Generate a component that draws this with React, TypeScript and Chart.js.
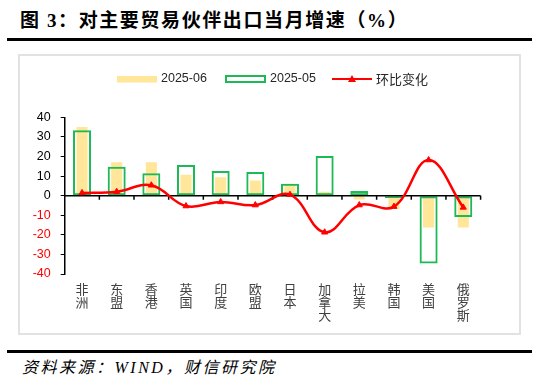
import React, { useEffect, useRef } from "react";
import { Chart, registerables } from "chart.js";

Chart.register(...registerables);

const categories: string[][] = [
  ["非", "洲"], ["东", "盟"], ["香", "港"], ["英", "国"], ["印", "度"], ["欧", "盟"],
  ["日", "本"], ["加", "拿", "大"], ["拉", "美"], ["韩", "国"], ["美", "国"], ["俄", "罗", "斯"],
];
const june: number[] = [35, 17, 17, 10.7, 9.4, 7.7, 5.5, 2.0, -2.0, -6.8, -16.2, -16.2];
const may: number[] = [33.4, 14.8, 11.4, 15.7, 12.6, 12.1, 6.1, 20.3, 2.4, -1.2, -34.7, -10.9];
const mom: number[] = [1.4, 2.0, 5.3, -5.3, -3.2, -4.8, 0.5, -18.7, -4.8, -5.6, 18.2, -6.0];
const seriesNames: string[] = ["2025-06", "2025-05", "环比变化"];

const YELLOW = "#ffe699";
const GREEN = "#1db954";
const RED = "#ff0000";
const LATIN = "'Liberation Sans', 'Noto Sans CJK SC', sans-serif";
const CJK = "'Noto Sans CJK SC', sans-serif";

const zeroAxisPlugin = {
  id: "zeroAxis",
  afterDatasetDraw(chart: any, args: any) {
    if (args.index !== 1) return;
    const { ctx, chartArea } = chart;
    const y0 = chart.scales.y.getPixelForValue(0);
    const n = categories.length;
    const w = (chartArea.right - chartArea.left) / n;
    ctx.save();
    ctx.strokeStyle = "#000";
    ctx.lineWidth = 1.5;
    ctx.beginPath();
    ctx.moveTo(chartArea.left, y0);
    ctx.lineTo(chartArea.right, y0);
    for (let i = 1; i <= n; i++) {
      const x = chartArea.left + i * w;
      ctx.moveTo(x, y0);
      ctx.lineTo(x, y0 + 4);
    }
    ctx.stroke();
    ctx.restore();
  },
};

const legendPlugin = {
  id: "customLegend",
  afterDraw(chart: any) {
    const ctx = chart.ctx;
    const cy = 23;
    ctx.save();
    ctx.textBaseline = "middle";
    ctx.fillStyle = YELLOW;
    ctx.fillRect(97, cy - 3, 40, 6.5);
    ctx.fillStyle = "#262626";
    ctx.font = `12.5px ${LATIN}`;
    ctx.fillText(seriesNames[0], 141, cy);
    ctx.strokeStyle = GREEN;
    ctx.lineWidth = 2;
    ctx.strokeRect(206, cy - 3, 39, 6);
    ctx.fillText(seriesNames[1], 250, cy);
    ctx.strokeStyle = RED;
    ctx.lineWidth = 2;
    ctx.beginPath();
    ctx.moveTo(312, cy);
    ctx.lineTo(352, cy);
    ctx.stroke();
    ctx.fillStyle = RED;
    ctx.beginPath();
    ctx.moveTo(332, cy - 4);
    ctx.lineTo(336, cy + 3);
    ctx.lineTo(328, cy + 3);
    ctx.closePath();
    ctx.fill();
    ctx.fillStyle = "#262626";
    ctx.font = `13px ${CJK}`;
    ctx.fillText(seriesNames[2], 356, cy);
    ctx.restore();
  },
};

function ChartCanvas() {
  const ref = useRef<HTMLCanvasElement>(null);
  useEffect(() => {
    if (!ref.current) return;
    const chart = new Chart(ref.current, {
      type: "bar",
      data: {
        labels: categories,
        datasets: [
          {
            type: "bar",
            label: seriesNames[0],
            data: june,
            backgroundColor: YELLOW,
            borderWidth: 0,
            grouped: false,
            barPercentage: 0.32,
            categoryPercentage: 1,
            order: 3,
          } as any,
          {
            type: "bar",
            label: seriesNames[1],
            data: may,
            backgroundColor: "rgba(0,0,0,0)",
            borderColor: GREEN,
            borderWidth: 2,
            borderSkipped: false,
            grouped: false,
            barPercentage: 0.52,
            categoryPercentage: 1,
            order: 2,
          } as any,
          {
            type: "line",
            label: seriesNames[2],
            data: mom,
            borderColor: RED,
            backgroundColor: RED,
            borderWidth: 2.5,
            tension: 0.4,
            pointStyle: "triangle",
            pointRadius: 3.5,
            pointBackgroundColor: RED,
            pointBorderColor: RED,
            pointBorderWidth: 1,
            order: 1,
          } as any,
        ],
      },
      options: {
        animation: false,
        responsive: false,
        devicePixelRatio: 1,
        layout: { padding: { left: 0, right: 38.4, top: 61.3, bottom: 0 } },
        plugins: { legend: { display: false }, tooltip: { enabled: false } },
        scales: {
          x: {
            type: "category",
            offset: true,
            grid: { display: false, drawTicks: false },
            border: { display: false },
            ticks: {
              color: "#404040",
              font: { family: "'Noto Sans CJK SC', serif", size: 13, lineHeight: 1.0 },
              padding: 9,
              maxRotation: 0,
              autoSkip: false,
            },
            afterFit: (s: any) => { s.height = 59; },
          },
          y: {
            min: -40,
            max: 40,
            grid: { drawOnChartArea: false, color: "#000", tickLength: 4, lineWidth: 1 },
            border: { display: true, color: "#000", width: 1.5 },
            ticks: {
              stepSize: 10,
              padding: 10,
              color: (c: any) => (c.tick && c.tick.value < 0 ? RED : "#000"),
              font: { family: LATIN, size: 12.5 },
            },
            afterFit: (s: any) => { s.width = 44.7; },
          },
        },
      } as any,
      plugins: [zeroAxisPlugin, legendPlugin],
    });
    return () => chart.destroy();
  }, []);
  return <canvas ref={ref} width={499} height={277} style={{ display: "block", width: 499, height: 277 }} />;
}

export default function App() {
  return (
    <div style={{ position: "absolute", left: 0, top: 0, width: 550, height: 385, background: "#fff", overflow: "hidden" }}>
      <div
        style={{
          position: "absolute", left: 20, top: 10, fontSize: 19, fontWeight: "bold",
          fontFamily: "'Liberation Serif', 'Noto Sans CJK SC', serif", color: "#000", whiteSpace: "nowrap", lineHeight: "22px",
          letterSpacing: 1.6,
        }}
      >
        图 3：对主要贸易伙伴出口当月增速（%）
      </div>
      <div style={{ position: "absolute", left: 7, top: 38, width: 525, height: 3, background: "#000" }} />
      <div style={{ position: "absolute", left: 18, top: 54, width: 499, height: 277, border: "2px solid #e2e2e2" }}>
        <ChartCanvas />
      </div>
      <div style={{ position: "absolute", left: 7, top: 350, width: 525, height: 3, background: "#000" }} />
      <div
        style={{
          position: "absolute", left: 22, top: 358, fontSize: 16, fontStyle: "italic",
          fontFamily: "'Liberation Serif', 'Noto Sans CJK SC', serif", color: "#000", whiteSpace: "nowrap", lineHeight: "20px", letterSpacing: 2.5,
        }}
      >
        资料来源：WIND，财信研究院
      </div>
    </div>
  );
}
